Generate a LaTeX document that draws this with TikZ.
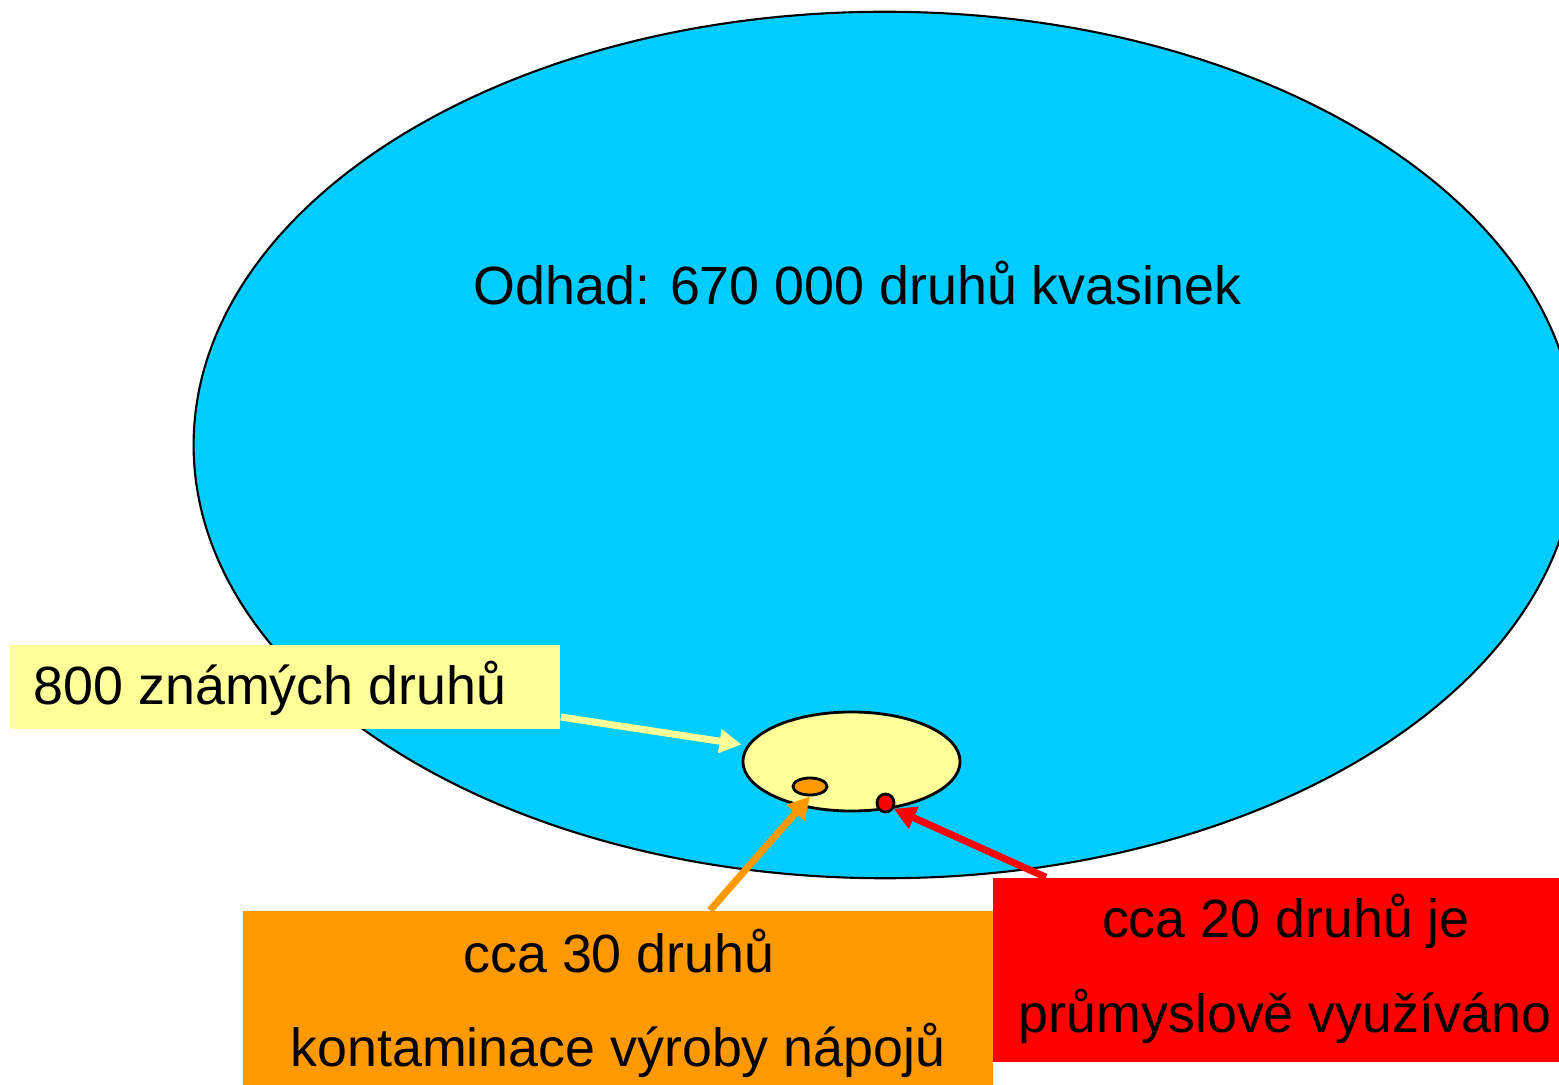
\documentclass[tikz,border=0pt]{standalone}
\usepackage{fontspec}
\setmainfont{Liberation Sans}
\usetikzlibrary{shapes.geometric,arrows.meta}
\definecolor{skyc}{HTML}{00CCFF}
\definecolor{lyel}{HTML}{FFFF99}
\definecolor{orng}{HTML}{FF9900}
\definecolor{redc}{HTML}{FF0000}
\tikzset{
  txt/.style={font=\fontsize{15.3}{27}\selectfont, inner sep=0pt, anchor=base},
  ell/.style={ellipse, draw=black, line width=0.6pt, inner sep=0pt},
  smell/.style={ellipse, draw=black, line width=0.8pt, inner sep=0pt},
  boxr/.style={rectangle, draw=none, inner sep=0pt},
  conn/.style={line width=2pt, -{Triangle[length=0.22cm,width=0.23cm]}},
}
\begin{document}
\begin{tikzpicture}[x=0.01cm,y=-0.01cm]
\useasboundingbox (0,0) rectangle (1559,1085);
\begin{scope}
\clip (0,0) rectangle (1559,1085);
% big ellipse
\node[ell, fill=skyc, minimum width=13.82cm, minimum height=8.66cm] (all) at (885,445) {};
\node[txt] (alltxt) at (857.5,305) {Odhad: 670 000 druhů kvasinek};
% yellow box
\node[boxr, fill=lyel, minimum width=5.5cm, minimum height=0.84cm] (ybox) at (285,687) {};
\node[txt, anchor=base west] (ytxt) at (33,705) {800 známých druhů};
% small ellipses
\node[smell, fill=lyel, minimum width=2.17cm, minimum height=0.99cm] (known) at (851.5,761.5) {};
\node[smell, fill=orng, minimum width=0.34cm, minimum height=0.17cm] (oell) at (810,786.5) {};
\node[smell, fill=redc, minimum width=0.17cm, minimum height=0.18cm] (rdot) at (885.5,803) {};
% orange box
\node[boxr, fill=orng, minimum width=7.5cm, minimum height=1.74cm] (obox) at (618,998) {};
\node[txt] (otxt1) at (619,972) {cca 30 druhů};
\node[txt] (otxt2) at (618,1067) {kontaminace výroby nápojů};
% red box
\node[boxr, fill=redc, minimum width=5.66cm, minimum height=1.84cm] (rbox) at (1276,970) {};
\node[txt] (rtxt1) at (1286,938) {cca 20 druhů je};
\node[txt] (rtxt2) at (1285,1033) {průmyslově využíváno};
% arrows
\draw[conn, draw=lyel, fill=lyel] ([yshift=-0.3cm]ybox.east) -- ([yshift=0.17cm]known.west);
\draw[conn, draw=orng, fill=orng] ([xshift=0.92cm]obox.north) -- (oell.south);
\draw[conn, draw=redc, fill=redc] ([xshift=-2.3cm]rbox.north) -- (rdot.-35);
\end{scope}
\end{tikzpicture}
\end{document}
